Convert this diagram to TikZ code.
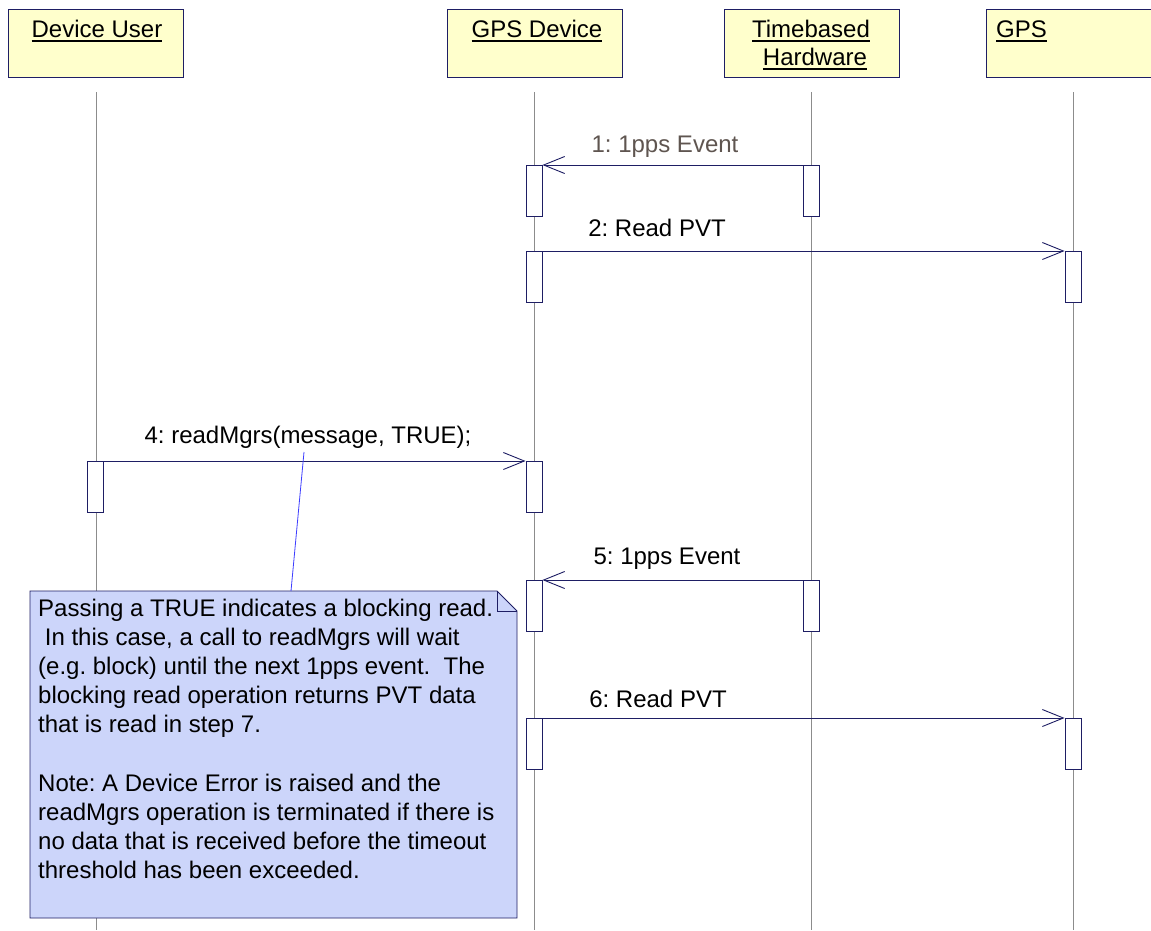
\documentclass[tikz,border=0pt]{standalone}
\usepackage{fontspec}
\setmainfont{Liberation Sans}
\usetikzlibrary{arrows.meta}

\definecolor{hdrfill}{RGB}{255,255,204}
\definecolor{navy}{RGB}{30,30,100}
\definecolor{notefill}{RGB}{204,213,250}
\definecolor{lifegray}{RGB}{140,140,140}
\definecolor{evgray}{RGB}{95,85,80}
\definecolor{anchorblue}{RGB}{60,60,255}

% underlined object name with a thicker rule
\newcommand\hdrul[1]{\setbox0\hbox{#1}\rlap{\rule[-5pt]{\wd0}{2pt}}\box0}

\begin{document}
\frenchspacing
\begin{tikzpicture}[x=1pt,y=-1pt,
  every node/.style={font=\fontsize{24}{28}\selectfont},
  objbox/.style={draw=navy, fill=hdrfill, line width=0.9pt, minimum width=175pt,
    minimum height=68pt, anchor=north west, inner sep=0pt},
  objname/.style={anchor=base, inner sep=0pt},
  lifeline/.style={draw=lifegray, line width=0.8pt},
  actbox/.style={draw=navy, fill=white, line width=0.9pt, minimum width=16pt,
    minimum height=51pt, anchor=north, inner sep=0pt},
  msg/.style={draw=navy, line width=0.9pt, -{Straight Barb[length=21pt,width=17pt]}},
  msglabel/.style={anchor=base, inner sep=0pt},
  notebody/.style={draw=navy, fill=notefill, line width=0.9pt},
  notelink/.style={draw=anchorblue, line width=0.8pt}]

\useasboundingbox (0,0) rectangle (1151,930);
\clip (0,0) rectangle (1151,930);
\fill[white] (0,0) rectangle (1151,930);

% lifelines
\coordinate (uTop) at (96,92);   \coordinate (uBot) at (96,930);
\coordinate (dTop) at (534,92);  \coordinate (dBot) at (534,930);
\coordinate (tTop) at (811,92);  \coordinate (tBot) at (811,930);
\coordinate (gTop) at (1073,92); \coordinate (gBot) at (1073,930);
\draw[lifeline] (uTop) -- (uBot);
\draw[lifeline] (dTop) -- (dBot);
\draw[lifeline] (tTop) -- (tBot);
\draw[lifeline] (gTop) -- (gBot);

% object headers
\node[objbox] (uBox) at (8,9) {};
\node[objbox] (dBox) at (447,9) {};
\node[objbox] (tBox) at (724,9) {};
\node[objbox] (gBox) at (986,9) {};
\node[objname] (uName) at (97,37) {\hdrul{Device User}};
\node[objname] (dName) at (537,37) {\hdrul{GPS Device}};
\node[objname] (tName1) at (811,37) {\hdrul{Timebased}};
\node[objname] (tName2) at (815,65) {\hdrul{Hardware}};
\node[objname, anchor=base west] (gName) at (996,37) {\hdrul{GPS}};

% activation bars
\node[actbox] (d1) at (534,165) {};
\node[actbox] (t1) at (811,165) {};
\node[actbox] (d2) at (534,251) {};
\node[actbox] (g2) at (1073,251) {};
\node[actbox] (u4) at (95,461) {};
\node[actbox] (d4) at (534,461) {};
\node[actbox] (d5) at (534,580) {};
\node[actbox] (t5) at (811,580) {};
\node[actbox] (d6) at (534,718) {};
\node[actbox] (g6) at (1073,718) {};

% messages
\draw[msg] (t1.north west) -- (d1.north east);
\node[msglabel, text=evgray] (m1) at (665,152) {1: 1pps Event};
\draw[msg] (d2.north east) -- (g2.north west);
\node[msglabel] (m2) at (657,236) {2: Read PVT};
\draw[msg] (u4.north east) -- (d4.north west);
\node[msglabel] (m4) at (308,443) {4: readMgrs(message, TRUE);};
\draw[msg] (t5.north west) -- (d5.north east);
\node[msglabel] (m5) at (667,564) {5: 1pps Event};
\draw[msg] (d6.north east) -- (g6.north west);
\node[msglabel] (m6) at (658,707) {6: Read PVT};

% note with folded corner
\coordinate (nNW) at (30,591);
\coordinate (nFold) at (497,591);
\coordinate (nFoldIn) at (497,611);
\coordinate (nEdge) at (517,611);
\coordinate (nSE) at (517,918);
\coordinate (nSW) at (30,918);
\draw[notebody] (nNW) -- (nFold) -- (nEdge) -- (nSE) -- (nSW) -- cycle;
\draw[draw=navy, line width=0.9pt] (nFold) -- (nFoldIn) -- (nEdge);
\node[anchor=north west, align=left, inner sep=0pt,
      font=\fontsize{24}{29.2}\selectfont] (noteText) at (38,598.5)
  {Passing a TRUE indicates a blocking read.\\
   \hspace*{0.278em}In this case, a call to readMgrs will wait\\
   (e.g. block) until the next 1pps event.\ \ The\\
   blocking read operation returns PVT data\\
   that is read in step 7.\\
   \mbox{}\\
   Note: A Device Error is raised and the\\
   readMgrs operation is terminated if there is\\
   no data that is received before the timeout\\
   threshold has been exceeded.};

% note anchor line
\coordinate (linkTop) at (304,452);
\coordinate (linkBot) at (291,591);
\draw[notelink] (linkTop) -- (linkBot);

\end{tikzpicture}
\end{document}
